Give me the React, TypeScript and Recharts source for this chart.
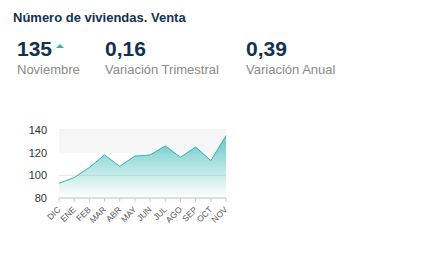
import React from 'react'
import {
  AreaChart,
  Area,
  XAxis,
  YAxis,
  CartesianGrid,
  ReferenceArea
} from 'recharts'

// Datos del gráfico
const MONTHS = ['DIC', 'ENE', 'FEB', 'MAR', 'ABR', 'MAY', 'JUN', 'JUL', 'AGO', 'SEP', 'OCT', 'NOV']
const VALUES = [93, 98, 107, 118, 108, 117, 118, 126, 116, 125, 113, 135]
const Y_TICKS = [80, 100, 120, 140]

const KPI_LABELS = ['Noviembre', 'Variación Trimestral', 'Variación Anual']
const KPI_VALUES = ['135', '0,16', '0,39']

const data = MONTHS.map((m, i) => ({ name: m, value: VALUES[i] }))

const NAVY = '#13324f'
const TEAL = '#33b2b2'
const FONT = '"Liberation Sans", Arial, sans-serif'

const XTick = (props: any) => {
  const { x, y, payload } = props
  return (
    <g transform={`translate(${x},${y + 4})`}>
      <text
        x={0}
        y={0}
        dy={3}
        textAnchor="end"
        transform="rotate(-45)"
        fontSize={8.5}
        fill="#555"
        fontFamily={FONT}
      >
        {payload.value}
      </text>
    </g>
  )
}

const App = () => {
  const kpiX = [17, 105, 246]
  return (
    <div
      style={{
        position: 'absolute',
        left: 0,
        top: 0,
        width: 437,
        height: 264,
        background: '#fff',
        fontFamily: FONT
      }}
    >
      <div
        style={{
          position: 'absolute',
          left: 13,
          top: 10,
          fontSize: 13,
          fontWeight: 'bold',
          color: NAVY
        }}
      >
        Número de viviendas. Venta
      </div>

      {KPI_VALUES.map((v, i) => (
        <div key={v} style={{ position: 'absolute', left: kpiX[i], top: 37 }}>
          <div style={{ fontSize: 21, fontWeight: 'bold', color: NAVY, lineHeight: '24px' }}>
            {v}
            {i === 0 && (
              <span
                style={{
                  display: 'inline-block',
                  width: 0,
                  height: 0,
                  marginLeft: 4,
                  verticalAlign: 'top',
                  marginTop: 7,
                  borderLeft: '4px solid transparent',
                  borderRight: '4px solid transparent',
                  borderBottom: `4px solid ${TEAL}`
                }}
              />
            )}
          </div>
          <div style={{ fontSize: 13, color: '#8a8a8a', lineHeight: '16px', marginTop: 1 }}>
            {KPI_LABELS[i]}
          </div>
        </div>
      ))}

      <div style={{ position: 'absolute', left: 0, top: 120 }}>
        <AreaChart
          width={240}
          height={140}
          data={data}
          margin={{ top: 10, right: 14, left: 0, bottom: 32 }}
        >
          <defs>
            <linearGradient id="fillTeal" x1="0" y1="0" x2="0" y2="1">
              <stop offset="0%" stopColor="#4fc0c0" stopOpacity={0.85} />
              <stop offset="100%" stopColor="#4fc0c0" stopOpacity={0} />
            </linearGradient>
          </defs>
          <ReferenceArea y1={120} y2={140} fill="#f6f6f6" fillOpacity={1} stroke="none" />
          <CartesianGrid vertical={false} stroke="#e4e4e4" />
          <XAxis
            dataKey="name"
            interval={0}
            height={30}
            tick={<XTick />}
            tickSize={4}
            tickLine={{ stroke: '#ccc' }}
            axisLine={{ stroke: '#ccc' }}
            padding={{ left: 0, right: 0 }}
          />
          <YAxis
            width={59}
            domain={[80, 140]}
            ticks={Y_TICKS}
            axisLine={false}
            tickLine={false}
            tick={{ fontSize: 11, fill: '#333', fontFamily: FONT }}
            tickMargin={6}
          />
          <Area
            type="linear"
            dataKey="value"
            stroke={TEAL}
            strokeWidth={1}
            fill="url(#fillTeal)"
            fillOpacity={1}
            dot={false}
            activeDot={false}
            isAnimationActive={false}
          />
        </AreaChart>
      </div>
    </div>
  )
}

export default App
